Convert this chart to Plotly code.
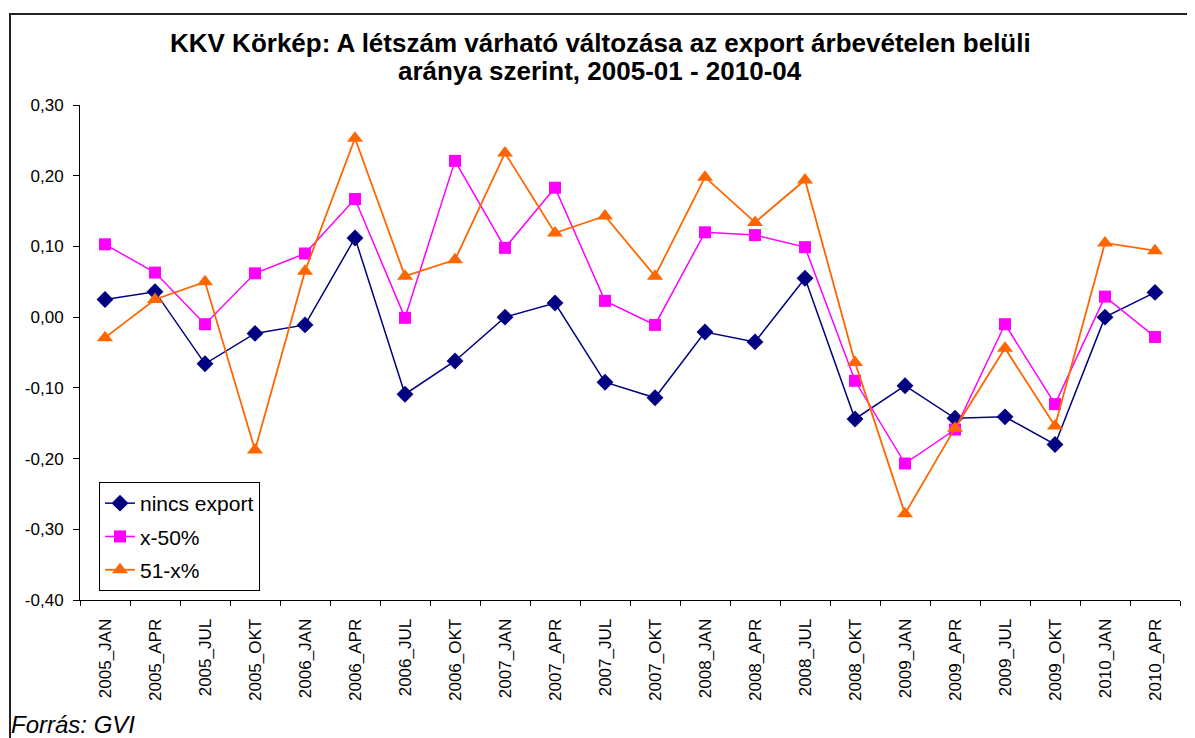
import plotly.graph_objects as go

categories = ["2005_JAN", "2005_APR", "2005_JUL", "2005_OKT", "2006_JAN", "2006_APR",
              "2006_JUL", "2006_OKT", "2007_JAN", "2007_APR", "2007_JUL", "2007_OKT",
              "2008_JAN", "2008_APR", "2008_JUL", "2008_OKT", "2009_JAN", "2009_APR",
              "2009_JUL", "2009_OKT", "2010_JAN", "2010_APR"]

nincs_export = [0.025, 0.036, -0.066, -0.023, -0.011, 0.112, -0.109, -0.062, 0.000, 0.020,
                -0.092, -0.114, -0.021, -0.035, 0.055, -0.144, -0.097, -0.143, -0.141,
                -0.180, 0.000, 0.035]

x_50 = [0.103, 0.063, -0.010, 0.062, 0.090, 0.167, -0.001, 0.221, 0.098, 0.183, 0.023,
        -0.011, 0.120, 0.116, 0.099, -0.090, -0.207, -0.159, -0.010, -0.123, 0.029, -0.028]

x_51 = [-0.029, 0.025, 0.050, -0.188, 0.065, 0.253, 0.058, 0.081, 0.232, 0.119, 0.143,
        0.058, 0.198, 0.134, 0.194, -0.064, -0.278, -0.157, -0.044, -0.154, 0.105, 0.094]

series_names = ["nincs export", "x-50%", "51-x%"]

y_ticks = [0.30, 0.20, 0.10, 0.00, -0.10, -0.20, -0.30, -0.40]
y_tick_labels = ["0,30", "0,20", "0,10", "0,00", "-0,10", "-0,20", "-0,30", "-0,40"]

title_lines = ["KKV Körkép: A létszám várható változása az export árbevételen belüli",
               "aránya szerint, 2005-01 - 2010-04"]
source_text = "Forrás: GVI"

FONT = "Liberation Sans, Arial, sans-serif"

fig = go.Figure()
fig.add_trace(go.Scatter(x=categories, y=nincs_export, name=series_names[0], mode="lines+markers",
                         line=dict(color="#000080", width=1.5),
                         marker=dict(symbol="diamond", size=13, color="#000080"),
                         legendgroup="a"))
fig.add_trace(go.Scatter(x=categories, y=x_50, name=series_names[1], mode="lines+markers",
                         line=dict(color="#FF00FF", width=1.5),
                         marker=dict(symbol="square", size=12, color="#FF00FF"),
                         legendgroup="b"))
fig.add_trace(go.Scatter(x=categories, y=x_51, name=series_names[2], mode="lines+markers",
                         line=dict(color="#FF6600", width=1.8),
                         marker=dict(symbol="triangle-up", size=14, color="#FF6600"),
                         legendgroup="c"))

# page has an 8px body margin: work in page pixels, convert to figure pixels
OFF = 8
W, H = 1187, 730
ml, mr, mt, mb = 72, 15, 97, 138
pw = W - ml - mr
ph = H - mt - mb


def px_x(p):
    return (p - OFF - ml) / pw


def px_y(p):
    return (H - mb - (p - OFF)) / ph


fig.update_layout(
    width=W, height=H,
    margin=dict(l=ml, r=mr, t=mt, b=mb),
    paper_bgcolor="white", plot_bgcolor="white",
    font=dict(family=FONT, color="black"),
    xaxis=dict(type="category", range=[-0.5, 21.5], showgrid=False, showline=True,
               linecolor="black", linewidth=1, ticks="outside", ticklen=5, tickcolor="black",
               tickson="boundaries", tickangle=-90, tickfont=dict(family=FONT, size=17),
               ticklabelstandoff=11, zeroline=False),
    yaxis=dict(range=[-0.4, 0.3], tickvals=y_ticks, ticktext=y_tick_labels, showgrid=False,
               showline=True, linecolor="black", linewidth=1, ticks="outside", ticklen=6,
               tickcolor="black", tickfont=dict(family=FONT, size=17), ticklabelstandoff=6,
               zeroline=False),
    legend=dict(x=px_x(99), y=px_y(482), xanchor="left", yanchor="top",
                bgcolor="white", bordercolor="black", borderwidth=1,
                font=dict(family=FONT, size=21), tracegroupgap=3,
                traceorder="grouped"),
    showlegend=True,
)

fig.add_shape(type="rect", xref="paper", yref="paper",
              x0=px_x(10), x1=px_x(1205), y0=px_y(750), y1=px_y(14),
              line=dict(color="#222222", width=2), fillcolor="rgba(0,0,0,0)", layer="below")

for line_text, yc in zip(title_lines, [43, 71]):
    fig.add_annotation(text="<b>" + line_text + "</b>", xref="paper", yref="paper",
                       x=px_x(600), y=px_y(yc), xanchor="center", yanchor="middle",
                       showarrow=False, font=dict(family=FONT, size=26, color="black"))

fig.add_annotation(text="<i>" + source_text + "</i>", xref="paper", yref="paper",
                   x=px_x(9), y=px_y(724), xanchor="left", yanchor="middle",
                   showarrow=False, font=dict(family=FONT, size=24, color="black"))

fig.write_html("out.html")
